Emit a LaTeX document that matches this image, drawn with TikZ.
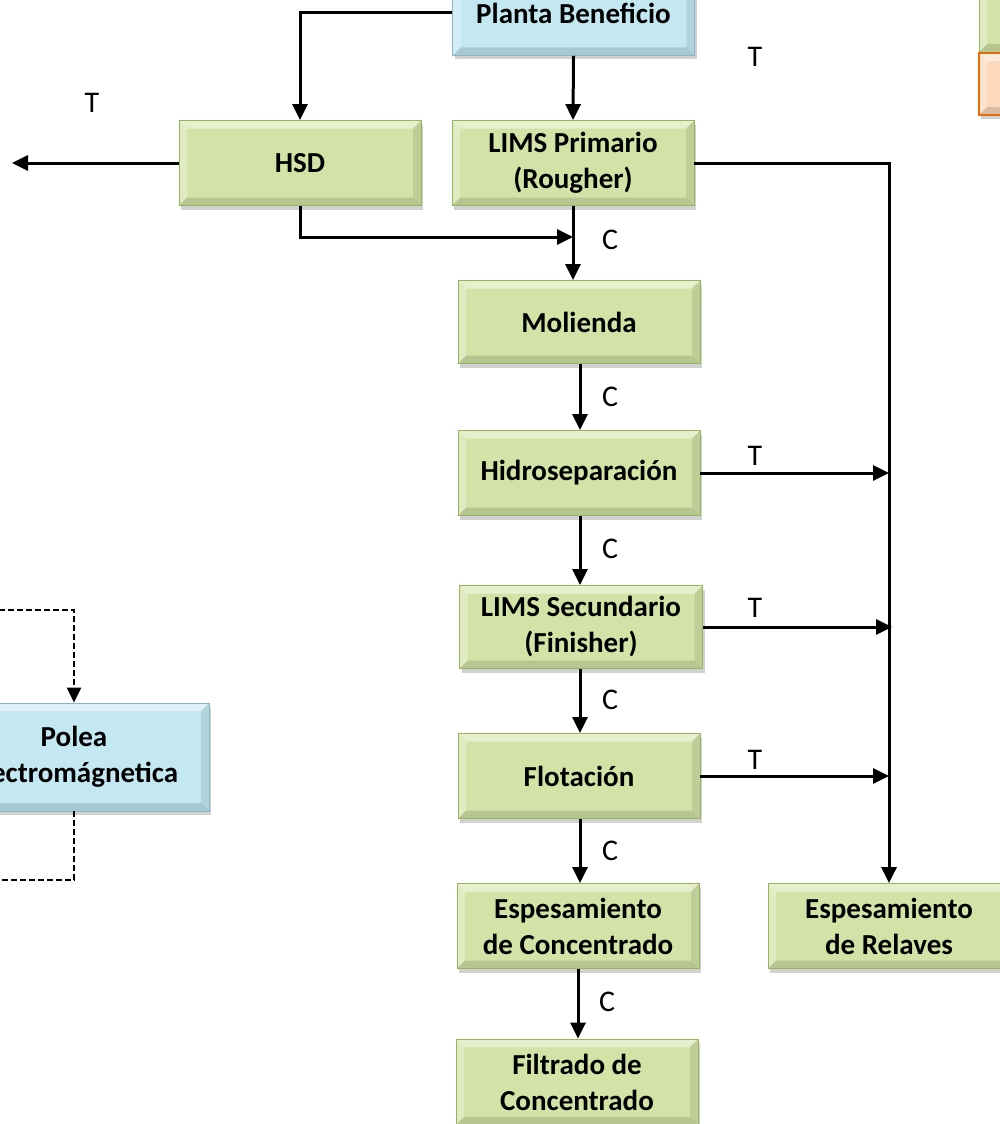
\documentclass[tikz,border=0pt]{standalone}
\usepackage{fontspec}
\setmainfont{Carlito}
\usetikzlibrary{arrows.meta,shadows}
\definecolor{gfill}{HTML}{D3E3A7}
\definecolor{gedge}{HTML}{98B35E}
\definecolor{bfill}{HTML}{C3E8F2}
\definecolor{bedge}{HTML}{86B9C8}
\definecolor{ofill}{HTML}{FCD9BC}
\definecolor{oedge}{HTML}{E46C0A}
\tikzset{
  bevel/.style={path picture={
    \fill[white,opacity=0.45] (path picture bounding box.north west) -- (path picture bounding box.north east) -- ([xshift=-8pt,yshift=-8pt]path picture bounding box.north east) -- ([xshift=8pt,yshift=-8pt]path picture bounding box.north west) -- cycle;
    \fill[white,opacity=0.3] (path picture bounding box.north west) -- (path picture bounding box.south west) -- ([xshift=8pt,yshift=8pt]path picture bounding box.south west) -- ([xshift=8pt,yshift=-8pt]path picture bounding box.north west) -- cycle;
    \fill[black,opacity=0.13] (path picture bounding box.south west) -- (path picture bounding box.south east) -- ([xshift=-8pt,yshift=8pt]path picture bounding box.south east) -- ([xshift=8pt,yshift=8pt]path picture bounding box.south west) -- cycle;
    \fill[black,opacity=0.09] (path picture bounding box.north east) -- (path picture bounding box.south east) -- ([xshift=-8pt,yshift=8pt]path picture bounding box.south east) -- ([xshift=-8pt,yshift=-8pt]path picture bounding box.north east) -- cycle;
  }},
  box/.style={bevel, draw=gedge, fill=gfill, line width=0.8pt, minimum width=242pt, minimum height=85pt,
    align=center, font=\fontsize{29}{36}\selectfont\bfseries, inner sep=0pt,
    drop shadow={shadow xshift=2pt, shadow yshift=-4pt, opacity=0.3, fill=black!60}},
  bluebox/.style={box, draw=bedge, fill=bfill},
  orangebox/.style={box, draw=oedge, fill=ofill, line width=1.5pt},
  arr/.style={line width=3pt, -{Triangle[length=16pt,width=15pt]}},
  dline/.style={line width=2.2pt, dash pattern=on 6pt off 3pt},
  lbl/.style={font=\fontsize{30}{34}\selectfont, inner sep=0pt},
}
\begin{document}
\begin{tikzpicture}[x=1pt,y=-1pt]
\useasboundingbox (0,0) rectangle (1000,1124);
\clip (0,0) rectangle (1000,1124);
% nodes
\node[bluebox] (planta) at (573.5,13) {Planta Beneficio};
\node[box] (lims1) at (573,163) {LIMS Primario\\(Rougher)};
\node[box] (hsd) at (300,163) {HSD};
\node[box, minimum height=83pt] (mol) at (579,322) {Molienda};
\node[box] (hidro) at (579,473) {Hidroseparación};
\node[box, minimum width=243pt, minimum height=83pt] (lims2) at (581,627) {LIMS Secundario\\(Finisher)};
\node[box] (flot) at (579,776) {Flotación};
\node[box] (espc) at (578,926) {Espesamiento\\de Concentrado};
\node[box] (rel) at (889,926) {Espesamiento\\de Relaves};
\node[box, minimum height=86pt] (filt) at (577,1082) {Filtrado de\\Concentrado};
\node[bluebox, minimum width=270pt, minimum height=108pt] (polea) at (74,757) {Polea\\Electromágnetica};
\node[box, minimum height=84pt] (tr1) at (1100,10) {};
\node[orangebox, minimum height=62pt] (tr2) at (1100,84) {};
% coordinates
\coordinate (hsdout) at (12,163);
\coordinate (j1) at (573,237);
\coordinate (dtop) at (-10,610);
\coordinate (dbot) at (-10,880);
% connectors
\draw[arr] (planta.west) -| (hsd.north);
\draw[arr] (planta.south) -- (lims1.north);
\draw[arr] (hsd.west) -- (hsdout);
\draw[arr] (lims1.east) -| (rel.north);
\draw[arr] (hsd.south) |- (j1);
\draw[arr] (lims1.south) -- (lims1.south |- mol.north);
\draw[arr] ([xshift=1pt]mol.south) -- ([xshift=1pt]mol.south |- hidro.north);
\draw[arr] ([xshift=1pt]hidro.south) -- ([xshift=1pt]hidro.south |- lims2.north);
\draw[arr] ([xshift=-1pt]lims2.south) -- ([xshift=-1pt]lims2.south |- flot.north);
\draw[arr] ([xshift=1pt]flot.south) -- ([xshift=1pt]flot.south |- espc.north);
\draw[arr] (espc.south) -- (espc.south |- filt.north);
\draw[arr] (hidro.east) -- (hidro.east -| rel.north);
\draw[arr] (lims2.east) -- ([xshift=3pt]lims2.east -| rel.north);
\draw[arr] (flot.east) -- (flot.east -| rel.north);
\draw[dline, -{Triangle[length=15pt,width=14pt]}] (dtop) -| (polea.north);
\draw[dline] (polea.south) |- (dbot);
% labels
\node[lbl] (tl1) at (92,103) {T};
\node[lbl] (tl2) at (755,57) {T};
\node[lbl] (tl3) at (755,456) {T};
\node[lbl] (tl4) at (755,608) {T};
\node[lbl] (tl5) at (755,760) {T};
\node[lbl] (cl1) at (610,240) {C};
\node[lbl] (cl2) at (610,397) {C};
\node[lbl] (cl3) at (610,549) {C};
\node[lbl] (cl4) at (610,700) {C};
\node[lbl] (cl5) at (610,851) {C};
\node[lbl] (cl6) at (607,1002) {C};
\end{tikzpicture}
\end{document}
